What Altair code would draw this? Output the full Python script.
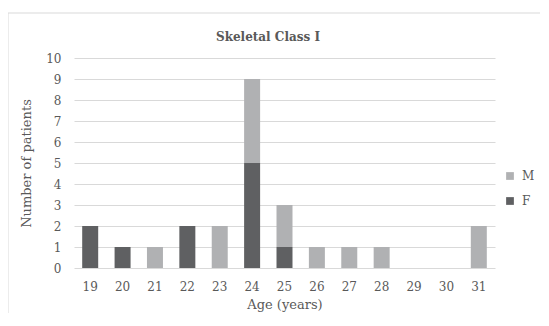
import altair as alt
import pandas as pd

ages = ["19", "20", "21", "22", "23", "24", "25", "26", "27", "28", "29", "30", "31"]
female = [2, 1, 0, 2, 0, 5, 1, 0, 0, 0, 0, 0, 0]
male = [0, 0, 1, 0, 2, 4, 2, 1, 1, 1, 0, 0, 2]
chart_title = "Skeletal Class I"

rows = []
for a, f, m in zip(ages, female, male):
    rows.append({"age": a, "sex": "F", "n": f, "ord": 0})
    rows.append({"age": a, "sex": "M", "n": m, "ord": 1})
df = pd.DataFrame(rows)

FONT = "DejaVu Serif"
TXT = "#595959"

one = pd.DataFrame({"t": [chart_title]})

border = alt.Chart(one).mark_rect(
    fill=None, stroke="#d9d9d9", strokeWidth=1
).encode(
    x=alt.value(-66), x2=alt.value(700), y=alt.value(-45), y2=alt.value(500)
)

title = alt.Chart(one).mark_text(
    font=FONT, fontSize=12, fontWeight="bold", color=TXT, baseline="middle", align="center"
).encode(x=alt.value(194), y=alt.value(-21), text="t:N")

bars = alt.Chart(df).mark_bar(size=16).encode(
    x=alt.X("age:N", sort=ages, title="Age (years)",
            scale=alt.Scale(paddingInner=0.5, paddingOuter=0.25),
            axis=alt.Axis(labelAngle=0, ticks=False, domain=False, labelPadding=13,
                          titlePadding=6, labelFontSize=12, titleFontSize=13)),
    y=alt.Y("n:Q", stack="zero", title="Number of patients",
            scale=alt.Scale(domain=[0, 10]),
            axis=alt.Axis(values=list(range(11)), ticks=False, domain=False,
                          labelPadding=13, titlePadding=12, labelFontSize=12,
                          titleFontSize=13, gridColor="#d9d9d9")),
    color=alt.Color("sex:N", scale=alt.Scale(domain=["M", "F"], range=["#b0b1b3", "#5f6062"]),
                    legend=alt.Legend(title=None, orient="none", legendX=430, legendY=112,
                                      symbolType="square", symbolSize=60, labelFontSize=12,
                                      rowPadding=13, symbolStrokeWidth=0, labelOffset=6)),
    order=alt.Order("ord:Q"),
)

chart = alt.layer(border, title, bars).properties(
    width=421, height=210,
    autosize=alt.AutoSizeParams(type="none"),
    padding={"left": 66, "top": 50, "right": 45, "bottom": 45},
).configure_view(stroke=None).configure_axis(
    labelFont=FONT, titleFont=FONT, labelColor=TXT, titleColor=TXT, titleFontWeight="normal"
).configure_legend(labelFont=FONT, labelColor=TXT)

chart.save("out.html", embed_options={"renderer": "svg", "actions": False})
